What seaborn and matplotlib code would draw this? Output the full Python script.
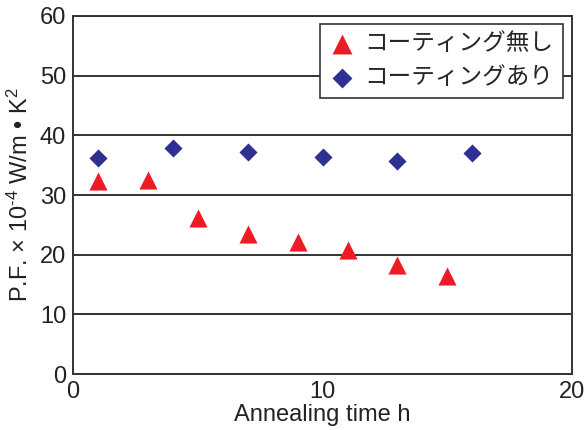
import matplotlib.pyplot as plt
import seaborn as sns

# data
time_uncoated = [1, 3, 5, 7, 9, 11, 13, 15]
pf_uncoated = [32.3, 32.5, 26.1, 23.5, 22.1, 20.8, 18.3, 16.4]
time_coated = [1, 4, 7, 10, 13, 16]
pf_coated = [36.2, 37.9, 37.2, 36.3, 35.7, 37.0]
labels = ['コーティング無し', 'コーティングあり']

sns.set_style('white')
plt.rcParams['font.family'] = ['Liberation Sans', 'Noto Sans CJK JP']
plt.rcParams['mathtext.fontset'] = 'custom'
plt.rcParams['mathtext.rm'] = 'Liberation Sans'
plt.rcParams['mathtext.it'] = 'Liberation Sans'

fig = plt.figure(figsize=(5.85, 4.3), dpi=100)
ax = fig.add_axes([0.125, 0.13, 0.853, 0.833])

for y in range(10, 61, 10):
    ax.axhline(y, color='#333333', lw=1.4, zorder=1)

sns.scatterplot(x=time_uncoated, y=pf_uncoated, marker='^', color='#ED1C24',
                s=170, linewidth=0, label=labels[0], ax=ax, zorder=3)
sns.scatterplot(x=time_coated, y=pf_coated, marker='D', color='#2E3192',
                s=85, linewidth=0, label=labels[1], ax=ax, zorder=3)

ax.set_xlim(0, 20)
ax.set_ylim(0, 60)
ax.set_xticks([0, 10, 20])
ax.set_yticks(range(0, 61, 10))
ax.tick_params(labelsize=17, length=0, pad=5, colors='#222222')
ax.set_xlabel('Annealing time h', fontsize=17, color='#222222', labelpad=1)
ax.set_ylabel('P.F. × 10$^{\\text{-4}}$ W/m • K$^{\\text{2}}$',
              fontsize=17, color='#222222', labelpad=5)
for sp in ax.spines.values():
    sp.set_color('#333333')
    sp.set_linewidth(1.4)

leg = ax.legend(loc='upper right', bbox_to_anchor=(0.982, 0.978), fontsize=17,
                frameon=True, fancybox=False, edgecolor='#333333',
                handletextpad=0.4, borderpad=0.4, labelspacing=0.5,
                handlelength=1.1, markerscale=1.1, borderaxespad=0)
leg.get_frame().set_linewidth(1.2)
leg.get_frame().set_alpha(1)

fig.savefig('out.png', dpi=100)
